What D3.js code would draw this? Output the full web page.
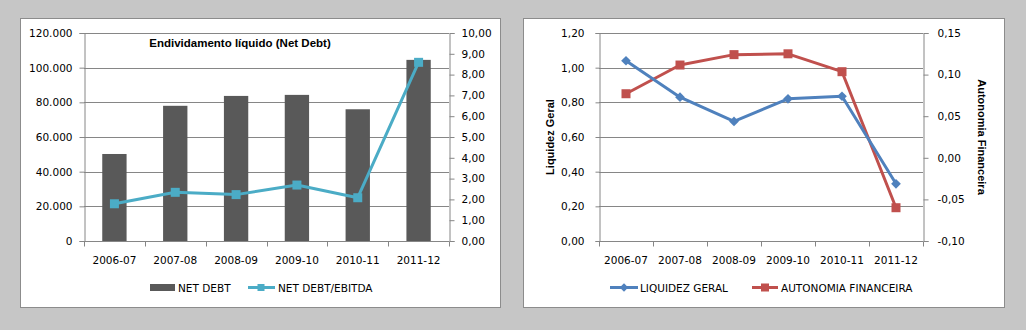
<!DOCTYPE html>
<html>
<head>
<meta charset="utf-8">
<script src="https://cdn.jsdelivr.net/npm/d3@7"></script>
<style>
  html, body { margin: 0; padding: 0; background: #c6c6c6; }
  svg { display: block; }
  text { font-family: "DejaVu Sans", Verdana, sans-serif; font-size: 10.5px; fill: #000; }
  .bold { font-family: "Liberation Sans", Arial, sans-serif; font-weight: bold; font-size: 11px; }
  .title { font-size: 11.5px; }
</style>
</head>
<body>
<svg id="chart" width="1026" height="330"></svg>
<script>
// Fiscal years shown on both charts
const years = ["2006-07", "2007-08", "2008-09", "2009-10", "2010-11", "2011-12"];

// Left chart: net debt (bars, left axis) and net debt / EBITDA (line, right axis)
const netDebt = [50200, 78000, 83700, 84300, 76000, 104500];
const netDebtEbitda = [1.79, 2.34, 2.23, 2.69, 2.08, 8.59];
const netDebtTicks = [0, 20000, 40000, 60000, 80000, 100000, 120000];
const ratioTicks = [0, 1, 2, 3, 4, 5, 6, 7, 8, 9, 10];

// Right chart: general liquidity (left axis) and financial autonomy (right axis)
const liquidezGeral = [1.04, 0.83, 0.69, 0.82, 0.835, 0.33];
const autonomiaFinanceira = [0.077, 0.1115, 0.124, 0.125, 0.1035, -0.060];
const liquidezTicks = [0, 0.2, 0.4, 0.6, 0.8, 1.0, 1.2];
const autonomiaTicks = [-0.10, -0.05, 0, 0.05, 0.10, 0.15];

const GRID = "#868686";
const BAR = "#595959";
const TEAL = "#4bacc6";
const BLUE = "#4f81bd";
const RED = "#c0504d";

const svg = d3.select("#chart");

const fmtThousands = v => v === 0 ? "0" : d3.format(",")(v).replace(/,/g, ".");
const fmtComma2 = v => d3.format(".2f")(v).replace(".", ",").replace("−", "-");

// Panel frames
function panel(x, y, w, h) {
  svg.append("rect").attr("x", x + 0.5).attr("y", y + 0.5).attr("width", w).attr("height", h)
    .attr("fill", "#fff").attr("stroke", "#8c8c8c").attr("stroke-width", 1);
}
panel(20, 18, 480, 289);
panel(523, 18, 481, 289);

// Shared axis styling
function styleAxis(g) {
  g.select(".domain").attr("stroke", GRID);
  g.selectAll(".tick line").attr("stroke", GRID);
  g.selectAll(".tick text").attr("fill", "#000");
}

// ---------- Left chart ----------
{
  const L = 84, R = 449, T = 33, B = 241;
  const x = d3.scaleBand().domain(years).range([L, R]);
  const yL = d3.scaleLinear().domain([0, 120000]).range([B, T]);
  const yR = d3.scaleLinear().domain([0, 10]).range([B, T]);
  const g = svg.append("g");

  // gridlines
  g.append("g").selectAll("line").data(netDebtTicks.slice(1)).join("line")
    .attr("x1", L).attr("x2", R)
    .attr("y1", d => Math.round(yL(d)) + 0.5).attr("y2", d => Math.round(yL(d)) + 0.5)
    .attr("stroke", GRID);

  // bars
  const bw = x.bandwidth() * 0.4;
  g.append("g").selectAll("rect").data(netDebt).join("rect")
    .attr("x", (d, i) => x(years[i]) + x.bandwidth() / 2 - bw / 2)
    .attr("width", bw)
    .attr("y", d => yL(d))
    .attr("height", d => B - yL(d))
    .attr("fill", BAR);

  // axes
  g.append("g").attr("transform", `translate(${L + 0.5},0)`)
    .call(d3.axisLeft(yL).tickValues(netDebtTicks).tickFormat(fmtThousands).tickSizeOuter(0).tickSize(5).tickPadding(7))
    .call(styleAxis);
  g.append("g").attr("transform", `translate(${R + 0.5},0)`)
    .call(d3.axisRight(yR).tickValues(ratioTicks).tickFormat(fmtComma2).tickSizeOuter(0).tickSize(5).tickPadding(7))
    .call(styleAxis);

  const xa = g.append("g").attr("transform", `translate(0,${B + 0.5})`);
  xa.append("line").attr("x1", L).attr("x2", R).attr("stroke", GRID);
  const bounds = d3.range(years.length + 1).map(i => L + i * x.step());
  xa.selectAll("line.tk").data(bounds).join("line").attr("class", "tk")
    .attr("x1", d => Math.round(d) + 0.5).attr("x2", d => Math.round(d) + 0.5)
    .attr("y1", 0).attr("y2", 5).attr("stroke", GRID);
  xa.selectAll("text").data(years).join("text")
    .attr("x", d => x(d) + x.bandwidth() / 2).attr("y", 22)
    .attr("text-anchor", "middle").text(d => d);

  // ratio line
  const line = d3.line().x((d, i) => x(years[i]) + x.bandwidth() / 2).y(d => yR(d));
  g.append("path").datum(netDebtEbitda).attr("d", line)
    .attr("fill", "none").attr("stroke", TEAL).attr("stroke-width", 3).attr("stroke-linejoin", "round");
  g.append("g").selectAll("rect").data(netDebtEbitda).join("rect")
    .attr("x", (d, i) => x(years[i]) + x.bandwidth() / 2 - 4.5)
    .attr("y", d => yR(d) - 4.5).attr("width", 9).attr("height", 9).attr("fill", TEAL);

  // title
  g.append("text").attr("class", "bold title").attr("x", 240).attr("y", 47).attr("text-anchor", "middle")
    .text("Endividamento líquido (Net Debt)");

  // legend
  const lg = g.append("g");
  lg.append("rect").attr("x", 150).attr("y", 284).attr("width", 25).attr("height", 7).attr("fill", BAR);
  lg.append("text").attr("x", 178).attr("y", 291.5).text("NET DEBT");
  lg.append("line").attr("x1", 248).attr("x2", 275).attr("y1", 287.5).attr("y2", 287.5)
    .attr("stroke", TEAL).attr("stroke-width", 3);
  lg.append("rect").attr("x", 257.5).attr("y", 284).attr("width", 7).attr("height", 7).attr("fill", TEAL);
  lg.append("text").attr("x", 278).attr("y", 291.5).text("NET DEBT/EBITDA");
}

// ---------- Right chart ----------
{
  const L = 599, R = 923, T = 33, B = 241;
  const x = d3.scaleBand().domain(years).range([L, R]);
  const yL = d3.scaleLinear().domain([0, 1.2]).range([B, T]);
  const yR = d3.scaleLinear().domain([-0.10, 0.15]).range([B, T]);
  const g = svg.append("g");

  g.append("g").selectAll("line").data(liquidezTicks.slice(1)).join("line")
    .attr("x1", L).attr("x2", R)
    .attr("y1", d => Math.round(yL(d)) + 0.5).attr("y2", d => Math.round(yL(d)) + 0.5)
    .attr("stroke", GRID);

  g.append("g").attr("transform", `translate(${L + 0.5},0)`)
    .call(d3.axisLeft(yL).tickValues(liquidezTicks).tickFormat(fmtComma2).tickSizeOuter(0).tickSize(4).tickPadding(11))
    .call(styleAxis);
  g.append("g").attr("transform", `translate(${R + 0.5},0)`)
    .call(d3.axisRight(yR).tickValues(autonomiaTicks).tickFormat(fmtComma2).tickSizeOuter(0).tickSize(5).tickPadding(9))
    .call(styleAxis);

  const xa = g.append("g").attr("transform", `translate(0,${B + 0.5})`);
  xa.append("line").attr("x1", L).attr("x2", R).attr("stroke", GRID);
  const bounds = d3.range(years.length + 1).map(i => L + i * x.step());
  xa.selectAll("line.tk").data(bounds).join("line").attr("class", "tk")
    .attr("x1", d => Math.round(d) + 0.5).attr("x2", d => Math.round(d) + 0.5)
    .attr("y1", 0).attr("y2", 5).attr("stroke", GRID);
  xa.selectAll("text").data(years).join("text")
    .attr("x", d => x(d) + x.bandwidth() / 2).attr("y", 22)
    .attr("text-anchor", "middle").text(d => d);

  const cx = i => x(years[i]) + x.bandwidth() / 2;

  // autonomia financeira (red, squares)
  g.append("path").datum(autonomiaFinanceira)
    .attr("d", d3.line().x((d, i) => cx(i)).y(d => yR(d)))
    .attr("fill", "none").attr("stroke", RED).attr("stroke-width", 3).attr("stroke-linejoin", "round");
  g.append("g").selectAll("rect").data(autonomiaFinanceira).join("rect")
    .attr("x", (d, i) => cx(i) - 4.5).attr("y", d => yR(d) - 4.5)
    .attr("width", 9).attr("height", 9).attr("fill", RED);

  // liquidez geral (blue, diamonds)
  g.append("path").datum(liquidezGeral)
    .attr("d", d3.line().x((d, i) => cx(i)).y(d => yL(d)))
    .attr("fill", "none").attr("stroke", BLUE).attr("stroke-width", 3).attr("stroke-linejoin", "round");
  const diamond = d3.symbol().type(d3.symbolDiamond2).size(60);
  g.append("g").selectAll("path").data(liquidezGeral).join("path")
    .attr("transform", (d, i) => `translate(${cx(i)},${yL(d)})`)
    .attr("d", diamond).attr("fill", BLUE);

  // axis titles
  g.append("text").attr("class", "bold")
    .attr("transform", `translate(554,${(T + B) / 2}) rotate(-90)`)
    .attr("text-anchor", "middle").text("Liquidez Geral");
  g.append("text").attr("class", "bold")
    .attr("transform", `translate(978,${(T + B) / 2}) rotate(90)`)
    .attr("text-anchor", "middle").text("Autonomia Financeira");

  // legend
  const lg = g.append("g");
  lg.append("line").attr("x1", 610).attr("x2", 638).attr("y1", 287.5).attr("y2", 287.5)
    .attr("stroke", BLUE).attr("stroke-width", 3);
  lg.append("path").attr("transform", "translate(624,287.5)")
    .attr("d", d3.symbol().type(d3.symbolDiamond2).size(45)).attr("fill", BLUE);
  lg.append("text").attr("x", 640).attr("y", 291.5).text("LIQUIDEZ GERAL");
  lg.append("line").attr("x1", 752).attr("x2", 778).attr("y1", 287.5).attr("y2", 287.5)
    .attr("stroke", RED).attr("stroke-width", 3);
  lg.append("rect").attr("x", 761).attr("y", 283.5).attr("width", 8).attr("height", 8).attr("fill", RED);
  lg.append("text").attr("x", 781).attr("y", 291.5).text("AUTONOMIA FINANCEIRA");
}
</script>
</body>
</html>
